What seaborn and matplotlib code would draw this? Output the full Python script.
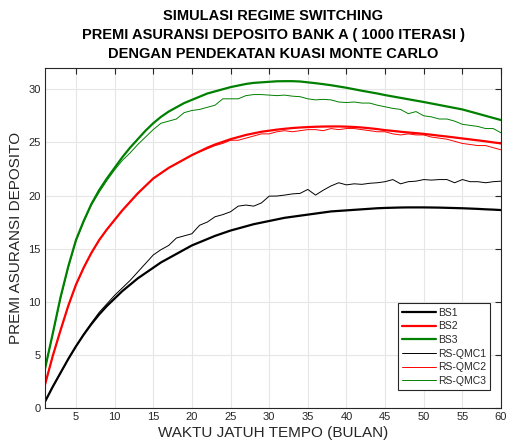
import numpy as np
import pandas as pd
import matplotlib
matplotlib.use("Agg")
import matplotlib.pyplot as plt
import seaborn as sns

months = list(range(1, 61))

bs1 = [0.6, 2.0, 3.3, 4.6, 5.8, 6.9, 7.9, 8.8, 9.6, 10.3,
       11.0, 11.6, 12.2, 12.7, 13.2, 13.7, 14.1, 14.5, 14.9, 15.3,
       15.6, 15.9, 16.2, 16.45, 16.7, 16.9, 17.1, 17.3, 17.45, 17.6,
       17.75, 17.9, 18.0, 18.1, 18.2, 18.3, 18.4, 18.5, 18.55, 18.6,
       18.65, 18.7, 18.75, 18.8, 18.83, 18.85, 18.87, 18.88, 18.88, 18.88,
       18.87, 18.86, 18.84, 18.82, 18.8, 18.77, 18.74, 18.7, 18.67, 18.63]

bs2 = [2.2, 4.9, 7.3, 9.6, 11.6, 13.2, 14.6, 15.8, 16.8, 17.7,
       18.6, 19.4, 20.2, 20.9, 21.6, 22.1, 22.6, 23.0, 23.4, 23.8,
       24.15, 24.5, 24.8, 25.05, 25.3, 25.5, 25.7, 25.85, 26.0, 26.1,
       26.2, 26.28, 26.35, 26.4, 26.44, 26.47, 26.49, 26.5, 26.5, 26.48,
       26.45, 26.4, 26.33, 26.25, 26.15, 26.08, 26.0, 25.93, 25.87, 25.8,
       25.72, 25.63, 25.55, 25.46, 25.37, 25.28, 25.19, 25.1, 25.0, 24.9]

bs3 = [3.7, 7.0, 10.4, 13.3, 15.8, 17.6, 19.2, 20.5, 21.6, 22.6,
       23.6, 24.5, 25.3, 26.1, 26.8, 27.4, 27.9, 28.3, 28.7, 29.0,
       29.3, 29.6, 29.8, 30.0, 30.2, 30.35, 30.5, 30.6, 30.65, 30.7,
       30.75, 30.76, 30.76, 30.73, 30.65, 30.57, 30.48, 30.38, 30.26, 30.14,
       30.0, 29.86, 29.73, 29.6, 29.45, 29.32, 29.19, 29.06, 28.93, 28.8,
       28.66, 28.52, 28.38, 28.24, 28.1, 27.9, 27.7, 27.5, 27.3, 27.1]

rs_qmc1 = [0.6, 2.0, 3.3, 4.6, 5.8, 6.95, 8.0, 9.0, 9.8, 10.6,
           11.3, 12.0, 12.8, 13.6, 14.4, 14.9, 15.3, 16.0, 16.2, 16.4,
           17.2, 17.5, 18.0, 18.2, 18.47, 19.0, 19.1, 19.0, 19.3, 19.94,
           19.95, 20.04, 20.15, 20.2, 20.57, 20.04, 20.5, 20.9, 21.2, 21.0,
           21.1, 21.05, 21.15, 21.2, 21.3, 21.5, 21.1, 21.3, 21.35, 21.5,
           21.45, 21.5, 21.5, 21.2, 21.5, 21.3, 21.3, 21.2, 21.3, 21.35]

rs_qmc2 = [2.2, 4.9, 7.3, 9.6, 11.6, 13.2, 14.6, 15.8, 16.8, 17.7,
           18.6, 19.4, 20.2, 20.9, 21.6, 22.1, 22.6, 23.0, 23.4, 23.8,
           24.1, 24.4, 24.7, 24.9, 25.2, 25.2, 25.4, 25.6, 25.8, 25.8,
           26.0, 26.1, 26.0, 26.1, 26.2, 26.2, 26.1, 26.3, 26.2, 26.3,
           26.3, 26.2, 26.1, 26.0, 26.0, 25.8, 25.7, 25.8, 25.7, 25.7,
           25.5, 25.4, 25.3, 25.1, 24.9, 24.8, 24.7, 24.7, 24.5, 24.3]

rs_qmc3 = [3.7, 7.0, 10.3, 13.2, 15.7, 17.5, 19.1, 20.3, 21.4, 22.4,
           23.3, 24.0, 24.8, 25.5, 26.2, 26.8, 27.0, 27.2, 27.8, 28.0,
           28.1, 28.3, 28.5, 29.1, 29.1, 29.1, 29.4, 29.5, 29.5, 29.45,
           29.4, 29.45, 29.35, 29.3, 29.1, 29.0, 29.05, 29.0, 28.8, 28.75,
           28.8, 28.7, 28.7, 28.5, 28.35, 28.2, 28.1, 27.7, 27.9, 27.5,
           27.4, 27.2, 27.2, 27.0, 26.7, 26.6, 26.5, 26.3, 26.3, 25.9]

series_names = ["BS1", "BS2", "BS3", "RS-QMC1", "RS-QMC2", "RS-QMC3"]
series_vals = [bs1, bs2, bs3, rs_qmc1, rs_qmc2, rs_qmc3]
colors = ["#000000", "#ff0000", "#008000", "#000000", "#ff0000", "#008000"]
widths = [1.6, 1.6, 1.6, 0.7, 0.7, 0.7]

xticks = [5, 10, 15, 20, 25, 30, 35, 40, 45, 50, 55, 60]
yticks = [0, 5, 10, 15, 20, 25, 30]

title_text = ("SIMULASI REGIME SWITCHING\n"
              "PREMI ASURANSI DEPOSITO BANK A ( 1000 ITERASI )\n"
              "DENGAN PENDEKATAN KUASI MONTE CARLO")
xlabel_text = "WAKTU JATUH TEMPO (BULAN)"
ylabel_text = "PREMI ASURANSI DEPOSITO"

df = pd.DataFrame({
    "month": months * len(series_names),
    "value": sum(series_vals, []),
    "series": sum([[n] * len(months) for n in series_names], []),
})

sns.set_style("white")
plt.rcParams["font.family"] = ["Liberation Sans", "DejaVu Sans"]

fig = plt.figure(figsize=(5.07, 4.48), dpi=100)
ax = fig.add_axes([0.0888, 0.0893, 0.8994, 0.7589])

for name, c, w in zip(series_names, colors, widths):
    sns.lineplot(data=df[df["series"] == name], x="month", y="value",
                 color=c, linewidth=w, label=name, ax=ax)

ax.set_xlim(1, 60)
ax.set_ylim(0, 32)
ax.set_xticks(xticks)
ax.set_yticks(yticks)
ax.grid(True, color="#e6e6e6", linewidth=0.8)
ax.set_axisbelow(True)
ax.tick_params(direction="in", length=4, width=0.8, colors="#262626",
               labelsize=8, top=True, right=True, labeltop=False,
               labelright=False, pad=3)
for s in ax.spines.values():
    s.set_visible(True)
    s.set_color("#262626")
    s.set_linewidth(0.8)

ax.set_xlabel(xlabel_text, fontsize=11, color="#262626", labelpad=3)
ax.set_ylabel(ylabel_text, fontsize=11, color="#262626", labelpad=4)
ax.set_title(title_text, fontsize=10.5, fontweight="bold", color="black",
             linespacing=1.45, pad=7)

leg = ax.legend(loc="lower right", bbox_to_anchor=(0.976, 0.053),
                fontsize=7.5, frameon=True, fancybox=False, framealpha=1,
                edgecolor="#262626", handlelength=3.3, handletextpad=0.15,
                labelspacing=0.35, borderpad=0.4, borderaxespad=0)
leg.get_frame().set_linewidth(0.8)

fig.savefig("out.png", dpi=100)
